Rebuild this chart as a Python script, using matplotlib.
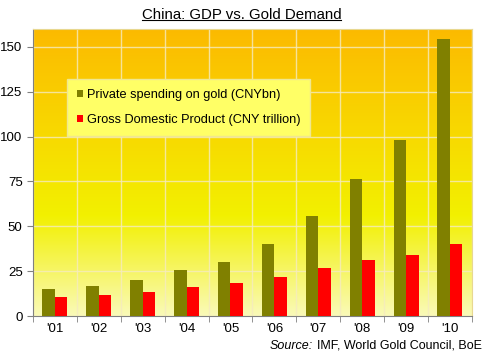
import numpy as np
import matplotlib
matplotlib.use('Agg')
from matplotlib import pyplot as plt
from matplotlib.colors import LinearSegmentedColormap
from matplotlib.lines import Line2D

years = ["'01", "'02", "'03", "'04", "'05", "'06", "'07", "'08", "'09", "'10"]
gold = [15, 16.5, 20, 25.5, 30, 40, 55.5, 76.5, 98, 154.5]
gdp = [10.5, 11.5, 13.5, 16, 18.5, 21.5, 26.5, 31.5, 34, 40]

plt.rcParams['font.family'] = 'Liberation Sans'

fig = plt.figure(figsize=(4.83, 3.54), dpi=100)
fig.patch.set_facecolor('white')
ax = fig.add_axes([0.0683, 0.1073, 0.9087, 0.8107])

# background gradient
cmap = LinearSegmentedColormap.from_list('bg', [(0, '#FAFAB8'), (0.35, '#F2F000'),
                                                (0.65, '#F8D800'), (1, '#FCBA00')])
grad = np.linspace(0, 1, 256).reshape(-1, 1)
ax.imshow(grad, aspect='auto', cmap=cmap, origin='lower',
          extent=[-0.5, 9.5, 0, 160], zorder=0)

x = np.arange(len(years))
w = 0.285
ax.bar(x - w / 2, gold, w, color='#808000', label='Private spending on gold (CNYbn)', zorder=3)
ax.bar(x + w / 2, gdp, w, color='#FF0000', label='Gross Domestic Product (CNY trillion)', zorder=3)

ax.set_xlim(-0.5, 9.5)
ax.set_ylim(0, 160)
ax.set_yticks([0, 25, 50, 75, 100, 125, 150])
ax.set_xticks(x)
ax.set_xticklabels(years)
ax.set_xticks(np.arange(-0.5, 10, 1), minor=True)
ax.tick_params(axis='x', which='major', length=0, pad=5, labelsize=9.5)
ax.tick_params(axis='x', which='minor', length=4, color='#808080')
ax.tick_params(axis='y', length=4, color='#808080', labelsize=9.5)
ax.grid(True, axis='y', color='#F5EBC0', lw=1, alpha=0.8, zorder=1)
ax.grid(True, axis='x', which='minor', color='#F5EBC0', lw=1, alpha=0.8, zorder=1)
for s in ['top', 'right']:
    ax.spines[s].set_color('#E8D890')
for s in ['left', 'bottom']:
    ax.spines[s].set_color('#808080')

leg = ax.legend(loc='upper left', bbox_to_anchor=(0.064, 0.847), frameon=True,
                fancybox=False, framealpha=1, facecolor='#FFFF66', edgecolor='#F0E890',
                fontsize=9.2, handlelength=0.45, handleheight=0.45, handletextpad=0.3,
                labelspacing=1.05, borderpad=0.75)

t = fig.text(0.5, 0.958, 'China: GDP vs. Gold Demand', ha='center', va='center', fontsize=10.8)
src = fig.text(0.998, 0.023, 'IMF, World Gold Council, BoE', ha='right', va='center', fontsize=9)

fig.canvas.draw()
sb = src.get_window_extent().transformed(fig.transFigure.inverted())
fig.text(sb.x0 - 0.008, 0.023, 'Source:', ha='right', va='center', fontsize=9, style='italic')
bb = t.get_window_extent().transformed(fig.transFigure.inverted())
fig.add_artist(Line2D([bb.x0, bb.x1], [bb.y0 + 0.004, bb.y0 + 0.004], color='black', lw=0.8))

fig.savefig('out.png', dpi=100)
